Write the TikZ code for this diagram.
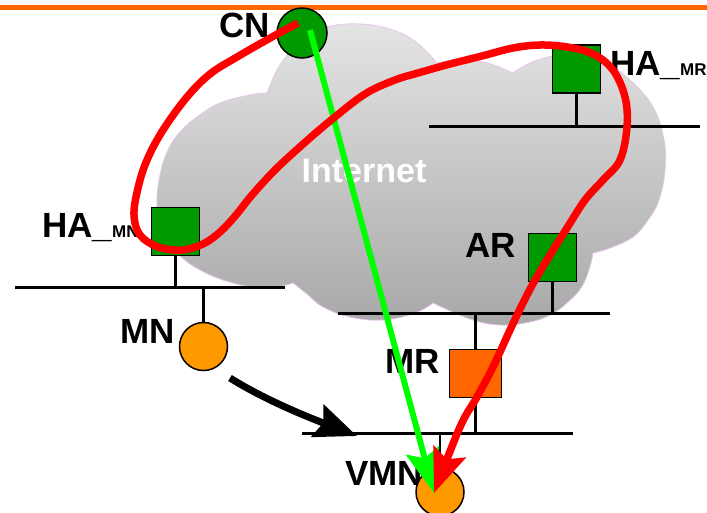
\documentclass[tikz,border=0pt]{standalone}
\usepackage{fontspec}
\setmainfont{Liberation Sans}
\usetikzlibrary{arrows.meta,calc}

\definecolor{nodegreen}{RGB}{0,153,0}
\definecolor{mrorange}{RGB}{255,102,0}
\definecolor{hostorange}{RGB}{255,153,0}
\definecolor{linkgreen}{RGB}{0,255,0}
\definecolor{cloudedge}{RGB}{232,196,236}

\tikzset{
  router/.style={draw, line width=1.5, fill=nodegreen, minimum width=48, minimum height=48, inner sep=0},
  host/.style={draw, circle, line width=1.5, minimum size=48, inner sep=0},
  lan/.style={line width=3},
  stem/.style={line width=2.5},
  lbl/.style={font=\fontsize{35}{40}\selectfont\bfseries, inner sep=0},
  tip/.style={-{Stealth[length=44pt,width=34pt,inset=8pt]}},
}

\begin{document}
\begin{tikzpicture}[x=1pt,y=1pt,yscale=-1,xscale=1]
\useasboundingbox (0,0) rectangle (707,512);

%Shape: Bar
\fill [mrorange] (0,4.5) rectangle (707,10);

%Shape: Cloud
\draw [cloudedge, line width=0.8, top color={rgb,255:red,228;green,228;blue,228}, bottom color={rgb,255:red,168;green,168;blue,168}]
  plot [smooth, tension=0.7] coordinates {(267,93) (277,70) (290,52) (305,38) (327,27) (360,24) (393,30) (417,43) (437,63)}
  -- plot [smooth, tension=0.7] coordinates {(437,63) (460,60) (487,63) (513,73)}
  -- plot [smooth, tension=0.7] coordinates {(513,73) (530,63) (552,56) (577,52) (602,60) (630,80) (653,107) (664,140) (665,170) (659,200) (648,220) (633,237) (610,248) (593,253)}
  -- plot [smooth, tension=0.7] coordinates {(593,253) (589,270) (581,288) (568,302) (552,314) (530,322) (500,325) (470,319) (433,303)}
  -- plot [smooth, tension=0.7] coordinates {(433,303) (415,313) (383,320) (350,317) (323,307) (307,294) (293,283)}
  -- plot [smooth, tension=0.7] coordinates {(293,283) (267,288) (233,283) (200,270) (177,253) (162,233) (157,205) (160,175) (168,150) (180,132) (197,117) (220,103) (250,95) (267,93)}
  -- cycle;

%Straight Lines: networks
\coordinate (lanMNw) at (15,287);   \coordinate (lanMNe) at (285,287);
\coordinate (lanMRw) at (429,126);  \coordinate (lanMRe) at (700,126);
\coordinate (lanARw) at (338,313);  \coordinate (lanARe) at (610,313);
\coordinate (lanVMNw) at (302,433); \coordinate (lanVMNe) at (573,433);
\draw [lan] (lanMNw) -- (lanMNe);
\draw [lan] (lanMRw) -- (lanMRe);
\draw [lan] (lanARw) -- (lanARe);
\draw [lan] (lanVMNw) -- (lanVMNe);

% Text Node
\node [lbl, anchor=base east] (lblCN) at (270,37) {CN};
% Text Node
\node [lbl, anchor=base west] (lblHAMN) at (42,237) {HA\_{\fontsize{17}{20}\selectfont MN}};
% Text Node
\node [lbl, anchor=base west] (lblHAMR) at (610,75) {HA\_{\fontsize{17}{20}\selectfont MR}};
% Text Node
\node [lbl, anchor=base east] (lblAR) at (516,257) {AR};
% Text Node
\node [lbl, anchor=base east] (lblMN) at (175,343) {MN};
% Text Node
\node [lbl, anchor=base east] (lblMR) at (440,373) {MR};
% Text Node
\node [lbl, anchor=base east] (lblVMN) at (423,485) {VMN};
% Text Node
\node [lbl, anchor=base, text=white, font=\fontsize{34}{40}\selectfont\bfseries] (lblNet) at (364,182) {Internet};

%Shape: Routers and hosts
\node [router] (hamn) at (175.5,231.5) {};
\node [router] (hamr) at (576.5,69) {};
\node [router] (ar) at (552.5,257.5) {};
\node [router, fill=mrorange, minimum width=52] (mr) at (475.5,373.5) {};
\node [host, fill=nodegreen, minimum size=50] (cn) at (302,33) {};
\node [host, fill=hostorange] (mn) at (203.5,346.5) {};
\node [host, fill=hostorange] (vmn) at (440,492) {};

%Straight Lines: stems
\draw [stem] (hamn.south) -- (hamn.south |- lanMNw);
\draw [stem] (mn.north) -- (mn.north |- lanMNw);
\draw [stem] (hamr.south) -- (hamr.south |- lanMRw);
\draw [stem] (ar.south) -- (ar.south |- lanARw);
\draw [stem] (mr.north) -- (mr.north |- lanARw);
\draw [stem] (mr.south) -- (mr.south |- lanVMNw);
\draw [stem] (vmn.north) -- (vmn.north |- lanVMNw);

%Straight Lines: direct route
\draw [tip, linkgreen, line width=6] ($(cn.center)+(8,-3)$) -- ($(vmn.center)+(-6,1)$);

%Curve Lines: tunnel route
\draw [tip, red, line width=7.5] plot [smooth, tension=0.6] coordinates {($(cn.center)+(-4,-10)$) (272,37) (237,57) (210,74) (187,97) (163,130) (147,160) (138,188) (134,215) (140,235) (158,247) (182,250) (203,244) (220,232) (236,215) (252,195) (275,170) (302,145) (330,121) (365,94) (395,80) (418,73) (450,64) (482,56) (513,48) (540,45) (567,47) (593,54) (613,70) (625,97) (627,127) (620,160) (603,180) (585,200) (567,228) (550,255) (535,280) (522,305) (510,330) (493,367) (477,397) (460,427) ($(vmn.center)+(-6,1)$)};

%Curve Lines: movement
\coordinate (mvfrom) at (230,378);
\coordinate (mvto) at (357,436);
\draw [-{Stealth[length=42pt,width=34pt,inset=6pt]}, line width=7] (mvfrom) .. controls (262,398) and (300,414) .. (mvto);

\end{tikzpicture}
\end{document}
